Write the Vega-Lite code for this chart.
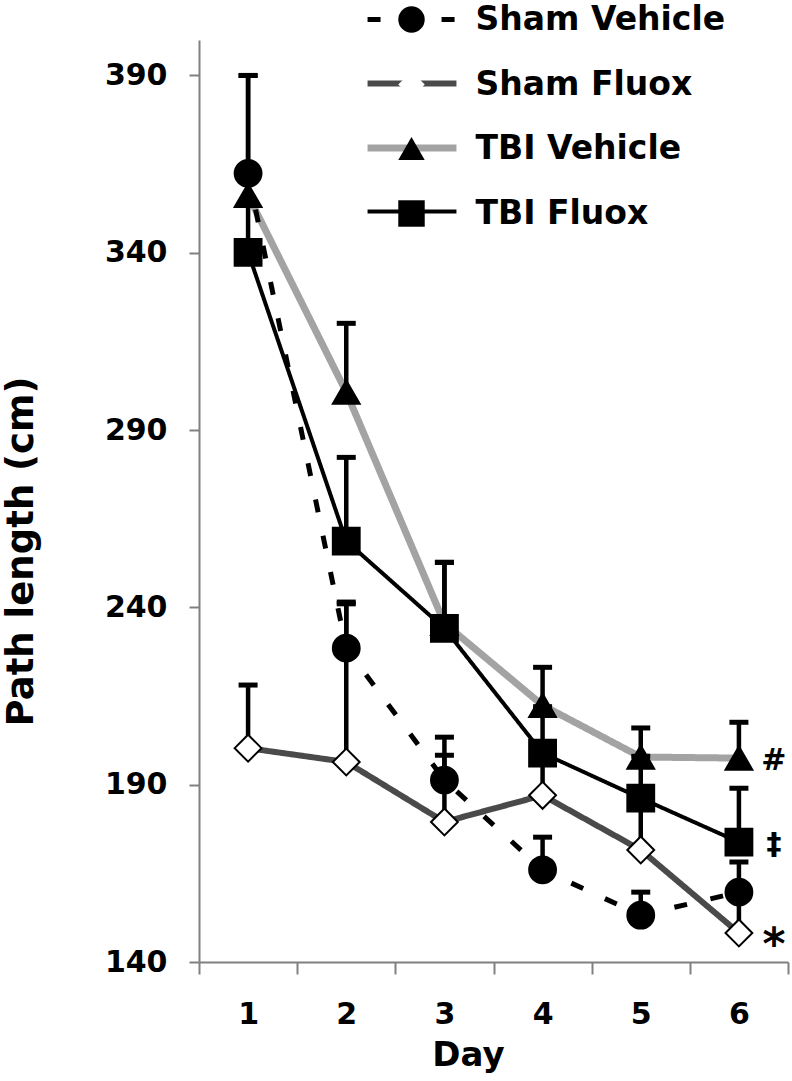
{
  "$schema": "https://vega.github.io/schema/vega-lite/v6.json",
  "width": 589,
  "height": 922,
  "autosize": {"type": "none"},
  "padding": {"left": 199, "top": 40, "right": 4, "bottom": 119},
  "background": "white",
  "config": {"view": {"stroke": null}, "font": "DejaVu Sans", "axis": {"grid": false}},
  "data": {
    "values": [
      {"series": "TBI Vehicle", "day": 1, "mean": 356.2, "upper": 390.0, "sig": ""},
      {"series": "TBI Vehicle", "day": 2, "mean": 300.7, "upper": 320.1, "sig": ""},
      {"series": "TBI Vehicle", "day": 3, "mean": 235.5, "upper": 252.7, "sig": ""},
      {"series": "TBI Vehicle", "day": 4, "mean": 212.4, "upper": 223.1, "sig": ""},
      {"series": "TBI Vehicle", "day": 5, "mean": 197.8, "upper": 206.0, "sig": ""},
      {"series": "TBI Vehicle", "day": 6, "mean": 197.5, "upper": 207.6, "sig": "#"},
      {"series": "Sham Fluox", "day": 1, "mean": 200.3, "upper": 218.1, "sig": ""},
      {"series": "Sham Fluox", "day": 2, "mean": 196.4, "upper": 241.0, "sig": ""},
      {"series": "Sham Fluox", "day": 3, "mean": 179.5, "upper": 198.3, "sig": ""},
      {"series": "Sham Fluox", "day": 4, "mean": 187.0, "upper": 199.0, "sig": ""},
      {"series": "Sham Fluox", "day": 5, "mean": 171.6, "upper": 186.0, "sig": ""},
      {"series": "Sham Fluox", "day": 6, "mean": 148.2, "upper": 160.0, "sig": "*"},
      {"series": "TBI Fluox", "day": 1, "mean": 340.1, "upper": 362.4, "sig": ""},
      {"series": "TBI Fluox", "day": 2, "mean": 258.7, "upper": 282.3, "sig": ""},
      {"series": "TBI Fluox", "day": 3, "mean": 234.1, "upper": 252.7, "sig": ""},
      {"series": "TBI Fluox", "day": 4, "mean": 198.9, "upper": 212.0, "sig": ""},
      {"series": "TBI Fluox", "day": 5, "mean": 186.2, "upper": 198.0, "sig": ""},
      {"series": "TBI Fluox", "day": 6, "mean": 173.8, "upper": 189.0, "sig": "‡"},
      {"series": "Sham Vehicle", "day": 1, "mean": 362.4, "upper": 390.0, "sig": ""},
      {"series": "Sham Vehicle", "day": 2, "mean": 228.5, "upper": 241.5, "sig": ""},
      {"series": "Sham Vehicle", "day": 3, "mean": 191.3, "upper": 203.4, "sig": ""},
      {"series": "Sham Vehicle", "day": 4, "mean": 166.0, "upper": 175.2, "sig": ""},
      {"series": "Sham Vehicle", "day": 5, "mean": 153.2, "upper": 159.7, "sig": ""},
      {"series": "Sham Vehicle", "day": 6, "mean": 159.7, "upper": 168.2, "sig": ""}
    ]
  },
  "layer": [
    {
      "mark": {"type": "line"},
      "encoding": {
        "x": {
          "field": "day", "type": "quantitative",
          "scale": {"domain": [0.5, 6.5], "nice": false, "zero": false},
          "axis": {
            "values": [0.5, 1, 1.5, 2, 2.5, 3, 3.5, 4, 4.5, 5, 5.5, 6, 6.5],
            "labelExpr": "datum.value % 1 === 0 ? format(datum.value, 'd') : ''",
            "tickOpacity": {"condition": {"test": "datum.value % 1 === 0", "value": 0}, "value": 1},
            "tickSize": 12, "tickColor": "#808080", "tickWidth": 2,
            "domainColor": "#808080", "domainWidth": 2,
            "labelFontSize": 30, "labelFont": "DejaVu Sans", "labelFontWeight": "bold", "labelColor": "black",
            "labelPadding": 25, "labelFlush": false, "labelOverlap": false, "labelBound": false,
            "title": "Day", "titleFontSize": 34, "titleFont": "DejaVu Sans", "titleFontWeight": "bold", "titleColor": "black",
            "titleX": 269, "titleY": 93, "titleBaseline": "middle", "titleAlign": "center"
          }
        },
        "y": {
          "field": "mean", "type": "quantitative",
          "scale": {"domain": [140, 400], "nice": false, "zero": false},
          "axis": {
            "values": [140, 190, 240, 290, 340, 390],
            "tickSize": 10, "tickColor": "#808080", "tickWidth": 2,
            "domainColor": "#808080", "domainWidth": 2,
            "labelFontSize": 30, "labelFont": "DejaVu Sans", "labelFontWeight": "bold", "labelColor": "black",
            "labelPadding": 22, "labelFlush": false, "labelOverlap": false, "labelBound": false,
            "title": "Path length (cm)", "titleFontSize": 37, "titleFont": "DejaVu Sans", "titleFontWeight": "bold", "titleColor": "black",
            "titleX": -178, "titleY": 511, "titleAngle": 270, "titleBaseline": "middle", "titleAlign": "center"
          }
        },
        "stroke": {
          "field": "series", "type": "nominal",
          "scale": {"domain": ["Sham Vehicle", "Sham Fluox", "TBI Vehicle", "TBI Fluox"], "range": ["#000000", "#4a4a4a", "#a3a3a3", "#000000"]},
          "legend": {"orient": "none", "legendX": 196, "legendY": -37, "title": null, "symbolType": "M-3.36,0H3.36", "symbolSize": 700, "labelFontSize": 33, "labelFont": "DejaVu Sans", "labelFontWeight": "bold", "labelExpr": "''", "rowPadding": 30, "padding": 0, "labelLimit": 400, "labelOffset": 47.5}
        },
        "strokeDash": {
          "field": "series", "type": "nominal",
          "scale": {"domain": ["Sham Vehicle", "Sham Fluox", "TBI Vehicle", "TBI Fluox"], "range": [[13, 24], [1, 0], [1, 0], [1, 0]]},
          "legend": {"orient": "none", "legendX": 196, "legendY": -37, "title": null, "symbolType": "M-3.36,0H3.36", "symbolSize": 700, "labelFontSize": 33, "labelFont": "DejaVu Sans", "labelFontWeight": "bold", "labelExpr": "''", "rowPadding": 30, "padding": 0, "labelLimit": 400, "labelOffset": 47.5}
        },
        "strokeWidth": {
          "field": "series", "type": "nominal",
          "scale": {"type": "ordinal", "domain": ["Sham Vehicle", "Sham Fluox", "TBI Vehicle", "TBI Fluox"], "range": [5, 6, 7, 4]},
          "legend": {"orient": "none", "legendX": 196, "legendY": -37, "title": null, "symbolType": "M-3.36,0H3.36", "symbolSize": 700, "labelFontSize": 33, "labelFont": "DejaVu Sans", "labelFontWeight": "bold", "labelExpr": "''", "rowPadding": 30, "padding": 0, "labelLimit": 400, "labelOffset": 47.5}
        }
      }
    },
    {
      "mark": {"type": "rule", "color": "black", "strokeWidth": 4.5},
      "encoding": {
        "x": {"field": "day", "type": "quantitative"},
        "y": {"field": "mean", "type": "quantitative"},
        "y2": {"field": "upper"}
      }
    },
    {
      "mark": {"type": "tick", "orient": "horizontal", "color": "black", "thickness": 5, "size": 19, "opacity": 1},
      "encoding": {
        "x": {"field": "day", "type": "quantitative"},
        "y": {"field": "upper", "type": "quantitative"}
      }
    },
    {
      "mark": {"type": "point", "filled": true, "color": "black", "stroke": "black", "strokeWidth": 2, "opacity": 1, "size": 720},
      "encoding": {
        "x": {"field": "day", "type": "quantitative"},
        "y": {"field": "mean", "type": "quantitative"},
        "stroke": {"value": "black"},
        "shape": {
          "field": "series", "type": "nominal",
          "scale": {"domain": ["Sham Fluox", "Sham Vehicle", "TBI Fluox", "TBI Vehicle"], "range": ["diamond", "circle", "square", "triangle-up"]},
          "legend": {
            "orient": "none", "legendX": 196, "legendY": -37, "title": null, "symbolSize": 700,
            "values": ["Sham Vehicle", "Sham Fluox", "TBI Vehicle", "TBI Fluox"],
            "symbolStrokeColor": "black", "symbolStrokeWidth": 2, "symbolOpacity": 1,
            "labelFontSize": 33, "labelFont": "DejaVu Sans", "labelFontWeight": "bold", "labelColor": "black",
            "rowPadding": 30, "padding": 0, "labelLimit": 400, "labelOffset": 47.5
          }
        },
        "fill": {
          "field": "series", "type": "nominal",
          "scale": {"domain": ["Sham Fluox", "Sham Vehicle", "TBI Fluox", "TBI Vehicle"], "range": ["white", "black", "black", "black"]},
          "legend": {
            "orient": "none", "legendX": 196, "legendY": -37, "title": null, "symbolSize": 700,
            "values": ["Sham Vehicle", "Sham Fluox", "TBI Vehicle", "TBI Fluox"],
            "symbolStrokeColor": "black", "symbolStrokeWidth": 2, "symbolOpacity": 1,
            "labelFontSize": 33, "labelFont": "DejaVu Sans", "labelFontWeight": "bold", "labelColor": "black",
            "rowPadding": 30, "padding": 0, "labelLimit": 400, "labelOffset": 47.5
          }
        }
      }
    },
    {
      "transform": [{"filter": "datum.sig === '#' || datum.sig === '‡'"}],
      "mark": {"type": "text", "dx": 35, "dy": 3, "fontSize": 30, "fontWeight": "bold", "font": "DejaVu Sans", "align": "center", "baseline": "middle", "color": "black"},
      "encoding": {
        "x": {"field": "day", "type": "quantitative"},
        "y": {"field": "mean", "type": "quantitative"},
        "text": {"field": "sig"}
      }
    },
    {
      "transform": [{"filter": "datum.sig === '*'"}],
      "mark": {"type": "text", "dx": 35, "dy": 13, "fontSize": 44, "fontWeight": "bold", "font": "DejaVu Sans", "align": "center", "baseline": "middle", "color": "black"},
      "encoding": {
        "x": {"field": "day", "type": "quantitative"},
        "y": {"field": "mean", "type": "quantitative"},
        "text": {"field": "sig"}
      }
    }
  ]
}
